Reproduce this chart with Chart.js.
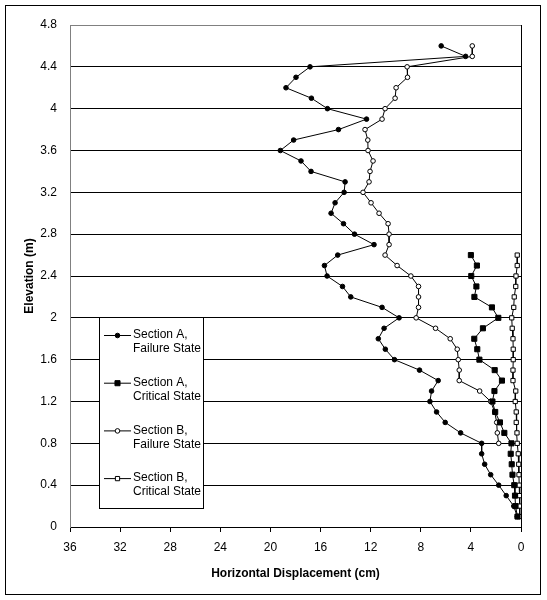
<!DOCTYPE html>
<html>
<head>
<meta charset="utf-8">
<script src="https://cdn.jsdelivr.net/npm/chart.js@4.4.0/dist/chart.umd.min.js"></script>
<style>
  html, body { margin: 0; padding: 0; background: #fff; }
  #wrap { width: 547px; height: 600px; position: relative; }
</style>
</head>
<body>
<div id="wrap"><canvas id="chart" width="547" height="600"></canvas></div>
<script>
// elevations (m)
const elevAFail = [4.6, 4.5, 4.4, 4.3, 4.2, 4.1, 4.0, 3.9, 3.8, 3.7, 3.6, 3.5, 3.4, 3.3, 3.2, 3.1, 3.0, 2.9, 2.8, 2.7, 2.6, 2.5, 2.4, 2.3, 2.2, 2.1, 2.0, 1.9, 1.8, 1.7, 1.6, 1.5, 1.4, 1.3, 1.2, 1.1, 1.0, 0.9, 0.8, 0.7, 0.6, 0.5, 0.4, 0.3, 0.2, 0.1];
const elevBFail = [4.6, 4.5, 4.4, 4.3, 4.2, 4.1, 4.0, 3.9, 3.8, 3.7, 3.6, 3.5, 3.4, 3.3, 3.2, 3.1, 3.0, 2.9, 2.8, 2.7, 2.6, 2.5, 2.4, 2.3, 2.2, 2.1, 2.0, 1.9, 1.8, 1.7, 1.6, 1.5, 1.4, 1.3, 1.2, 1.1, 1.0, 0.9, 0.8];
const elevCrit = [2.6, 2.5, 2.4, 2.3, 2.2, 2.1, 2.0, 1.9, 1.8, 1.7, 1.6, 1.5, 1.4, 1.3, 1.2, 1.1, 1.0, 0.9, 0.8, 0.7, 0.6, 0.5, 0.4, 0.3, 0.2, 0.1];

// horizontal displacement (cm)
const dispAFail = [6.37, 4.42, 16.84, 17.96, 18.76, 16.73, 15.45, 12.33, 14.57, 18.15, 19.21, 17.56, 16.76, 14.04, 14.12, 14.84, 15.16, 14.17, 13.29, 11.73, 14.63, 15.69, 15.48, 14.25, 13.59, 11.09, 9.73, 10.93, 11.39, 10.83, 10.1, 8.1, 6.61, 7.14, 7.27, 6.74, 6.05, 4.82, 3.14, 3.14, 2.9, 2.42, 1.78, 1.18, 0.58, 0.3];
const dispACrit = [4.0, 3.52, 3.97, 3.56, 3.72, 2.32, 1.81, 3.04, 3.73, 3.49, 3.32, 2.1, 1.52, 2.12, 2.28, 2.06, 1.68, 1.33, 0.76, 0.82, 0.74, 0.68, 0.54, 0.48, 0.44, 0.28];
const dispBFail = [3.89, 3.89, 9.09, 9.06, 9.97, 10.05, 10.85, 11.09, 12.45, 12.23, 12.21, 11.81, 12.05, 12.13, 12.61, 11.97, 11.33, 10.61, 10.53, 10.53, 10.85, 9.89, 8.79, 8.18, 8.18, 8.18, 8.37, 6.82, 5.65, 5.09, 5.01, 4.93, 4.93, 3.3, 2.42, 2.1, 1.94, 1.89, 1.78];
const dispBCrit = [0.3, 0.3, 0.4, 0.42, 0.54, 0.58, 0.74, 0.7, 0.64, 0.62, 0.62, 0.64, 0.64, 0.42, 0.46, 0.38, 0.38, 0.32, 0.3, 0.22, 0.18, 0.16, 0.14, 0.1, 0.1, 0.1];

const seriesNames = [
  ["Section A,", "Failure State"],
  ["Section A,", "Critical State"],
  ["Section B,", "Failure State"],
  ["Section B,", "Critical State"]
];

const xTicks = [36, 32, 28, 24, 20, 16, 12, 8, 4, 0];
const yTicks = [0, 0.4, 0.8, 1.2, 1.6, 2, 2.4, 2.8, 3.2, 3.6, 4, 4.4, 4.8];

const FONT = "'Liberation Sans', Arial, sans-serif";

function pts(xs, ys) {
  return xs.map((x, i) => ({ x: x, y: ys[i] }));
}

function series(label, data, style, radius, fill) {
  return {
    label: label,
    data: data,
    showLine: true,
    borderColor: "#000",
    borderWidth: 1,
    pointStyle: style,
    pointRadius: radius,
    pointHoverRadius: radius,
    pointBackgroundColor: fill,
    pointBorderColor: "#000",
    pointBorderWidth: 1,
    fill: false,
    tension: 0
  };
}

// frame, plot border and custom two-line legend
const extras = {
  id: "extras",
  beforeDraw(chart) {
    const c = chart.ctx;
    c.save();
    c.fillStyle = "#fff";
    c.fillRect(0, 0, chart.width, chart.height);
    c.strokeStyle = "#000";
    c.lineWidth = 1;
    c.strokeRect(5.5, 5.5, 535, 589);
    c.restore();
  },
  afterDatasetsDraw(chart) {
    const c = chart.ctx;
    const a = chart.chartArea;
    c.save();
    c.lineWidth = 1;
    c.strokeStyle = "#808080";
    c.beginPath();
    c.moveTo(a.left, a.top + 0.5);
    c.lineTo(a.right, a.top + 0.5);
    c.stroke();
    c.strokeStyle = "#000";
    c.beginPath();
    c.moveTo(a.right + 0.5, a.top);
    c.lineTo(a.right + 0.5, a.bottom);
    c.stroke();

    // legend
    const lx = 99.5, ly = 317.5, lw = 104, lh = 191;
    c.fillStyle = "#fff";
    c.fillRect(lx, ly, lw, lh);
    c.strokeStyle = "#000";
    c.strokeRect(lx, ly, lw, lh);
    c.font = "12px " + FONT;
    c.textBaseline = "middle";
    c.textAlign = "left";
    chart.data.datasets.forEach((ds, i) => {
      const y = 335 + i * 47.7;
      c.strokeStyle = "#000";
      c.lineWidth = 1;
      c.beginPath();
      c.moveTo(104, y + 0.5);
      c.lineTo(131, y + 0.5);
      c.stroke();
      c.fillStyle = ds.pointBackgroundColor;
      Chart.helpers.drawPoint(c, {
        pointStyle: ds.pointStyle,
        radius: ds.pointRadius,
        rotation: 0,
        borderWidth: 1
      }, 117.5, y + 0.5);
      c.fillStyle = "#000";
      ds.label.forEach((t, k) => c.fillText(t, 133, y + k * 14));
    });
    c.restore();
  }
};

new Chart(document.getElementById("chart"), {
  type: "scatter",
  data: {
    datasets: [
      series(seriesNames[0], pts(dispAFail, elevAFail), "circle", 2.3, "#000"),
      series(seriesNames[1], pts(dispACrit, elevCrit), "rect", 3.6, "#000"),
      series(seriesNames[2], pts(dispBFail, elevBFail), "circle", 2.3, "#fff"),
      series(seriesNames[3], pts(dispBCrit, elevCrit), "rect", 3.0, "#fff")
    ]
  },
  options: {
    responsive: false,
    animation: false,
    layout: { padding: { left: 18, right: 26, top: 25, bottom: 0 } },
    plugins: {
      legend: { display: false },
      tooltip: { enabled: false }
    },
    scales: {
      x: {
        type: "linear",
        reverse: true,
        min: 0,
        max: 36,
        afterBuildTicks: (s) => { s.ticks = xTicks.map(v => ({ value: v })); },
        afterFit: (s) => { s.height = 73; },
        border: { color: "#000", width: 1 },
        grid: { drawOnChartArea: false, drawTicks: true, tickLength: 5, color: "#000" },
        ticks: { color: "#000", font: { family: FONT, size: 12 }, padding: 8, maxRotation: 0 },
        title: {
          display: true,
          text: "Horizontal Displacement (cm)",
          color: "#000",
          font: { family: FONT, size: 12, weight: "bold" },
          padding: { top: 4, bottom: 19 }
        }
      },
      y: {
        type: "linear",
        min: 0,
        max: 4.8,
        afterBuildTicks: (s) => { s.ticks = yTicks.map(v => ({ value: v })); },
        afterFit: (s) => { s.width = 52; },
        border: { color: "#808080", width: 1 },
        grid: {
          drawTicks: false,
          color: (ctx) => (ctx.tick && ctx.tick.value > 0 && ctx.tick.value < 4.8) ? "#000" : "rgba(0,0,0,0)"
        },
        ticks: {
          color: "#000",
          font: { family: FONT, size: 12 },
          padding: 13,
          callback: (v) => String(+v.toFixed(1))
        },
        title: {
          display: true,
          text: "Elevation (m)",
          color: "#000",
          font: { family: FONT, size: 12, weight: "bold" },
          padding: { top: 4, bottom: 0 }
        }
      }
    }
  },
  plugins: [extras]
});
</script>
</body>
</html>
